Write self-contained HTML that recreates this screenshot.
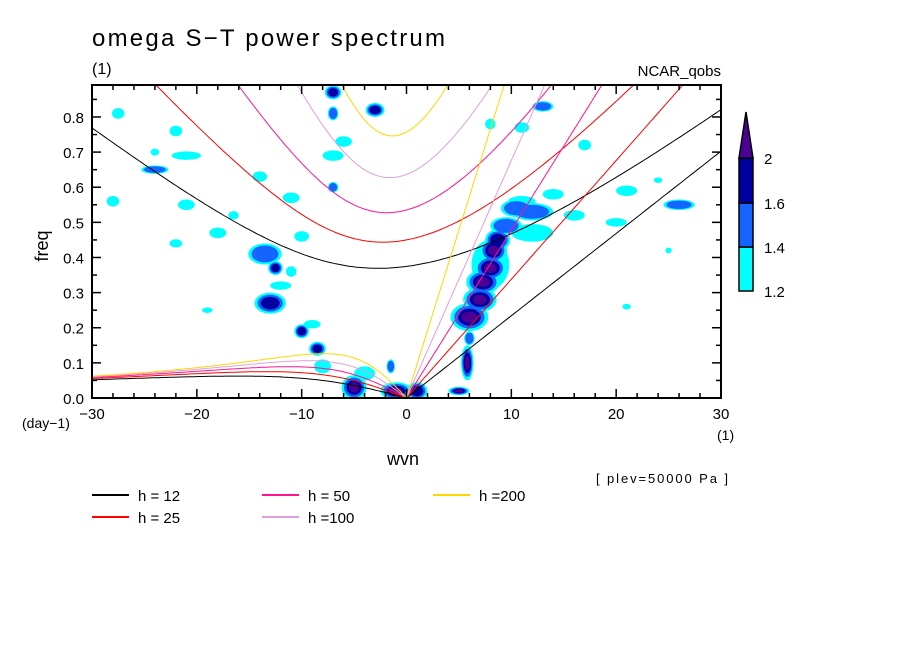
<!DOCTYPE html>
<html><head><meta charset="utf-8"><style>
body{margin:0;background:#fff;}
svg text{font-family:"Liberation Sans",sans-serif;fill:#000;}
</style></head><body>
<svg id="c" width="904" height="654" viewBox="0 0 904 654" xmlns="http://www.w3.org/2000/svg">
<rect width="904" height="654" fill="#fff"/>
<text x="92" y="46" font-size="24" textLength="353">omega S−T power spectrum</text>
<text x="92" y="74" font-size="16">(1)</text>
<text x="721" y="76" font-size="15" text-anchor="end">NCAR_qobs</text>
<text x="48" y="246" font-size="18" text-anchor="middle" transform="rotate(-90 48 246)">freq</text>
<text x="403" y="465" font-size="18" text-anchor="middle">wvn</text>
<text x="22" y="428" font-size="14">(day−1)</text>
<text x="717" y="440" font-size="14">(1)</text>
<text x="596" y="483" font-size="13" textLength="132">[ plev=50000 Pa ]</text>
<g id="blobs"></g>
<g id="curves"></g>
<g id="axes"></g>
<g id="legend"></g>
<g id="cbar"></g>
</svg>
<script>
const depths=[12,25,50,100,200];
const depthColors=["#000000","#ff0000","#ff1493","#dda0dd","#ffd700"];
const xTicks=[-30,-20,-10,0,10,20,30];
const yTicks=[0,0.1,0.2,0.3,0.4,0.5,0.6,0.7,0.8];
const levels=[1.2,1.4,1.6,2];
const levelColors=["#00ffff","#1464ff","#0000a0","#4b0096"];
// blobs: wvn, freq, half-width(wvn), half-height(freq), max level index
const blobWvn=[5,5.8,6,6,7,7.3,8,8.3,8.7,9.5,10.5,12,8,-5,-1,1,-4,-1.5,-13,-10,-8.5,-8,-13.5,-12.5,-24,-7,-7,-3,-6,-7,-7,-28,-22,-21,-14,-18,-24,-21,-22,-27.5,-16.5,-11,-12,-9,-10,-11,-19,12,11,16,14,21,26,13,11,8,17,20,24,25,21];
const blobFreq=[0.02,0.1,0.17,0.23,0.28,0.33,0.37,0.42,0.45,0.49,0.54,0.53,0.38,0.03,0.02,0.02,0.07,0.09,0.27,0.19,0.14,0.09,0.41,0.37,0.65,0.87,0.81,0.82,0.73,0.69,0.6,0.56,0.76,0.69,0.63,0.47,0.7,0.55,0.44,0.81,0.52,0.36,0.32,0.21,0.46,0.57,0.25,0.47,0.56,0.52,0.58,0.59,0.55,0.83,0.77,0.78,0.72,0.5,0.62,0.42,0.26];
const blobW=[1,0.6,0.5,1.8,1.6,1.6,1.5,1.3,1.2,1.5,1.5,2,1.8,1.2,1.5,1,1,0.4,1.5,0.7,0.8,0.8,1.6,0.7,1.3,0.8,0.5,0.9,0.8,1,0.5,0.6,0.6,1.4,0.7,0.8,0.4,0.8,0.6,0.6,0.5,0.5,1,0.8,0.7,0.8,0.5,2,1.3,1,1,1,1.5,1,0.7,0.5,0.6,1,0.4,0.3,0.4];
const blobH=[0.012,0.05,0.02,0.04,0.035,0.035,0.035,0.035,0.03,0.025,0.025,0.025,0.07,0.035,0.025,0.025,0.02,0.02,0.03,0.02,0.02,0.02,0.03,0.02,0.012,0.02,0.02,0.02,0.015,0.015,0.015,0.015,0.015,0.012,0.015,0.015,0.01,0.015,0.012,0.015,0.012,0.015,0.012,0.012,0.015,0.015,0.008,0.025,0.015,0.015,0.015,0.015,0.015,0.015,0.015,0.015,0.015,0.012,0.008,0.008,0.008];
const blobLvl=[3,3,1,3,3,3,3,3,2,1,1,1,0,3,3,2,0,1,2,2,2,0,1,2,1,2,1,2,0,0,1,0,0,0,0,0,0,0,0,0,0,0,0,0,0,0,0,0,0,0,0,0,1,1,0,0,0,0,0,0,0];

const NS="http://www.w3.org/2000/svg";
const L=92,R=721,T=85,B=398,XMIN=-30,XMAX=30,YMIN=0,YMAX=0.891;
const sx=v=>L+(v-XMIN)/(XMAX-XMIN)*(R-L);
const sy=v=>B-(v-YMIN)/(YMAX-YMIN)*(B-T);
function mk(tag,attrs,parent){const e=document.createElementNS(NS,tag);for(const k in attrs)e.setAttribute(k,attrs[k]);parent.appendChild(e);return e;}
const svg=document.getElementById('c');
const defs=mk('defs',{},svg);
const cp=mk('clipPath',{id:'pc'},defs);mk('rect',{x:L,y:T,width:R-L,height:B-T},cp);

// blobs
const gb=document.getElementById('blobs');gb.setAttribute('clip-path','url(#pc)');
for(let lv=0;lv<4;lv++){
  for(let i=0;i<blobWvn.length;i++){
    if(blobLvl[i]<lv)continue;
    const sc=1-lv*0.2;
    const rx=Math.abs(sx(blobWvn[i]+blobW[i])-sx(blobWvn[i]))*sc;
    const ry=Math.abs(sy(blobFreq[i]+blobH[i])-sy(blobFreq[i]))*sc;
    const e=mk('ellipse',{cx:sx(blobWvn[i]),cy:sy(blobFreq[i]),rx:rx,ry:ry,fill:levelColors[lv]},gb);
    
    
  }
}

// dispersion curves
const gc=document.getElementById('curves');gc.setAttribute('clip-path','url(#pc)');
const beta=2.28e-11,g=9.81,Re=6.371e6,toCpd=86400/(2*Math.PI);
function igFreq(k,c,n){
  let w=Math.sqrt(c*c*k*k+(2*n+1)*beta*c);
  for(let it=0;it<30;it++){const F=w*w-c*c*k*k-beta*c*c*k/w-(2*n+1)*beta*c;const dF=2*w+beta*c*c*k/(w*w);w-=F/dF;}
  return w;
}
depths.forEach((h,j)=>{
  const c=Math.sqrt(g*h);const col=depthColors[j];
  let ig=[],er=[],kv=[];
  for(let s=-30;s<=30.001;s+=0.25){
    const k=s/Re;
    ig.push([sx(s),sy(igFreq(k,c,1)*toCpd)]);
    if(s<=0){er.push([sx(s),sy(-beta*k/(k*k+3*beta/c)*toCpd)]);}
    if(s>=0){kv.push([sx(s),sy(c*k*toCpd)]);}
  }
  [[ig,'ig-curve'],[er,'er-curve'],[kv,'kelvin-curve']].forEach(([pts,nm])=>{
    const p=mk('polyline',{points:pts.map(q=>q[0].toFixed(1)+','+q[1].toFixed(1)).join(' '),fill:'none',stroke:col,'stroke-width':1},gc);
    
    
  });
});

// axes
const ga=document.getElementById('axes');
mk('rect',{x:L,y:T,width:R-L,height:B-T,fill:'none',stroke:'#000','stroke-width':2},ga);
for(let v=-30;v<=30;v+=2){
  const x=sx(v),len=(v%10===0)?9:5;
  mk('line',{x1:x,y1:B,x2:x,y2:B-len,stroke:'#000','stroke-width':1.5},ga);
  mk('line',{x1:x,y1:T,x2:x,y2:T+len,stroke:'#000','stroke-width':1.5},ga);
}
for(let i=0;i<=17;i++){
  const v=i*0.05,y=sy(v),len=(i%2===0)?9:5;
  mk('line',{x1:L,y1:y,x2:L+len,y2:y,stroke:'#000','stroke-width':1.5},ga);
  mk('line',{x1:R,y1:y,x2:R-len,y2:y,stroke:'#000','stroke-width':1.5},ga);
}
xTicks.forEach(v=>{
  const t=mk('text',{x:sx(v),y:419,'font-size':15,'text-anchor':'middle'},ga);
  t.textContent=(v<0?'−':'')+Math.abs(v);
  
  
});
yTicks.forEach(v=>{
  const t=mk('text',{x:84,y:sy(v)+6,'font-size':15,'text-anchor':'end'},ga);
  t.textContent=v.toFixed(1);
  
  
});

// legend
const gl=document.getElementById('legend');
const lx=[92,92,262,262,433],ly=[495,517,495,517,495];
depths.forEach((h,j)=>{
  mk('line',{x1:lx[j],y1:ly[j],x2:lx[j]+37,y2:ly[j],stroke:depthColors[j],'stroke-width':2},gl);
  const t=mk('text',{x:lx[j]+46,y:ly[j]+6,'font-size':15},gl);
  t.textContent=h>=100?('h ='+h):('h = '+h);
  
  
});

// colorbar
const gcb=document.getElementById('cbar');
const cbx=739,cbw=14,cbTop=158;
const segY=[291,247,203,158];
for(let i=0;i<3;i++){
  mk('rect',{x:cbx,y:segY[i+1],width:cbw,height:segY[i]-segY[i+1],fill:levelColors[i],stroke:'#000','stroke-width':1.5},gcb);
}
mk('polygon',{points:`${cbx},${cbTop} ${cbx+cbw},${cbTop} ${cbx+cbw/2},112`,fill:levelColors[3],stroke:'#000','stroke-width':1.5},gcb);
levels.forEach((lv,i)=>{
  const t=mk('text',{x:764,y:segY[i]+6,'font-size':15},gcb);
  t.textContent=String(lv);
  
  
});
</script>
</body></html>
